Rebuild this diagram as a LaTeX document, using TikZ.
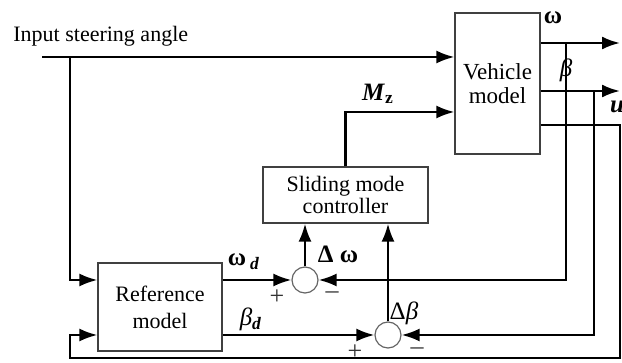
\documentclass[tikz,border=0pt]{standalone}
\usepackage{fontspec}
\setmainfont{Liberation Serif}
\usetikzlibrary{positioning,arrows.meta}

\begin{document}
\begin{tikzpicture}[
  x=0.5pt,y=-0.5pt,
  font=\fontsize{11}{12.5}\selectfont,
  block/.style={draw=black!75,line width=0.6pt,inner sep=0pt,align=center},
  sumnode/.style={draw=black!60,circle,line width=0.6pt,minimum size=13pt,inner sep=0pt},
  wire/.style={line width=1.2pt},
  sig/.style={wire,-{Latex[length=9pt,width=6.5pt]}},
  lbl/.style={inner sep=0pt,font=\fontsize{12.5}{13}\selectfont},
  sgn/.style={inner sep=0pt,text=black!80,font=\fontsize{13}{13}\selectfont}
]
\useasboundingbox (0,0) rectangle (622,363);
% blocks
\node[block,minimum width=42.5pt,minimum height=70.5pt,font=\fontsize{11.5}{12}\selectfont] (vm) at (497.5,83.5) {Vehicle\\model};
\node[block,minimum width=82.5pt,minimum height=28pt,font=\fontsize{11}{11}\selectfont] (smc) at (345.5,195) {Sliding mode\\controller};
\node[block,minimum width=62pt,minimum height=44pt,font=\fontsize{11}{13.5}\selectfont] (ref) at (160,307) {Reference\\model};
\node[sumnode] (s1) at (305,280) {};
\node[sumnode] (s2) at (388,335) {};
% free ends and corners
\coordinate (src) at (42,57);
\coordinate (br) at (70,57);
\coordinate (bot) at (70,358);
\coordinate (wout) at (620,43);
\coordinate (bout) at (620,91);
\coordinate (uout) at (620,125);
\coordinate (wfb) at (566,43);
\coordinate (bfb) at (594,91);
\coordinate (mzl) at (345,112);
% connections
\draw[sig] (src) -- (src -| vm.west);
\draw[sig] (br) |- (s1 -| ref.west);
\draw[sig] (wout -| vm.east) -- (wout);
\draw[sig] (bout -| vm.east) -- (bout);
\draw[sig] (uout -| vm.east) -- (uout) |- (bot) |- (s2 -| ref.west);
\draw[sig] (smc.north) |- (mzl -| vm.west);
\draw[sig] (s1 -| ref.east) -- (s1);
\draw[sig] (s2 -| ref.east) -- (s2);
\draw[sig] (wfb) |- (s1);
\draw[sig] (bfb) |- (s2);
\draw[sig] (s1) -- (s1 |- smc.south);
\draw[sig] (s2) -- (s2 |- smc.south);
% labels
\node[inner sep=0pt,anchor=west] (tin) at (13,36) {Input steering angle};
\node[lbl] (lw) at (553,18) {\textbf{ω}};
\node[lbl] (lb) at (566,70) {\textit{β}};
\node[lbl] (lu) at (617,107) {\textbf{\textit{u}}};
\node[lbl] (lmz) at (378,94) {\textbf{\textit{M}\textsubscript{z}}};
\node[lbl] (lwd) at (244,262) {\textbf{ω}\,\textsubscript{\textbf{\textit{d}}}};
\node[lbl] (lbd) at (251,319) {\textit{β}\textsubscript{\textbf{\textit{d}}}};
\node[lbl] (ldw) at (338,254) {\textbf{Δ ω}};
\node[lbl] (ldb) at (404,313) {Δ\textit{β}};
\node[sgn] (p1) at (277,297) {+};
\node[sgn] (m1) at (332,295) {–};
\node[sgn] (p2) at (355,352) {+};
\node[sgn] (m2) at (417,351) {–};
\end{tikzpicture}
\end{document}
